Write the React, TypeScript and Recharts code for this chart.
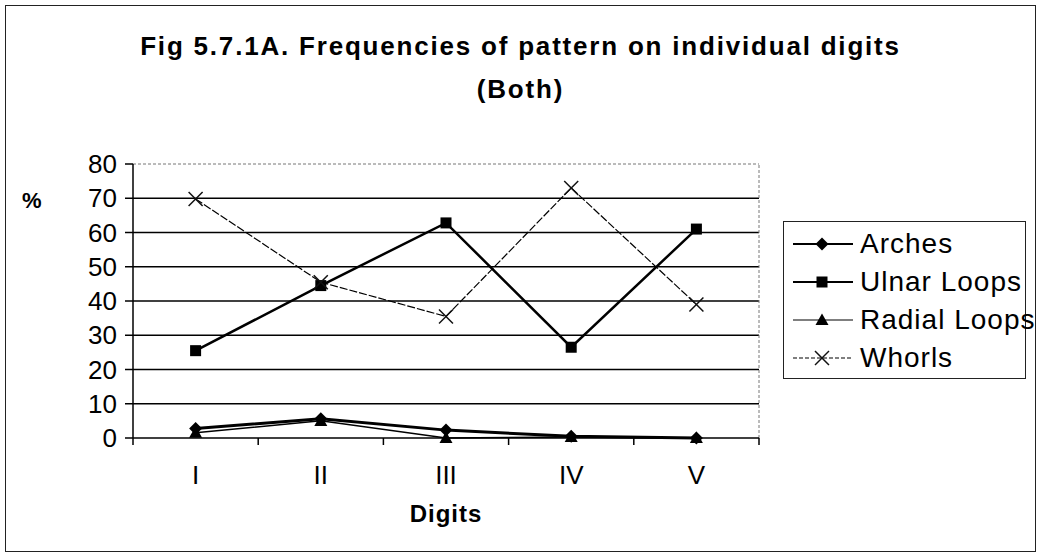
import React from "react";
import { LineChart, Line, XAxis, YAxis, ReferenceLine } from "recharts";

const digits = ["I", "II", "III", "IV", "V"];
const arches = [2.8, 5.6, 2.3, 0.5, 0];
const ulnarLoops = [25.5, 44.5, 62.8, 26.5, 61];
const radialLoops = [1.5, 5, 0, 0.3, 0];
const whorls = [69.8, 45.5, 35.5, 73, 39];
const yTicks = [0, 10, 20, 30, 40, 50, 60, 70, 80];
const gridValues = [10, 20, 30, 40, 50, 60, 70];

const FONT = "Arial, 'Liberation Sans', sans-serif";

const data = digits.map((d, i) => ({
  x: i + 1,
  arches: arches[i],
  ulnar: ulnarLoops[i],
  radial: radialLoops[i],
  whorls: whorls[i],
}));

// x ticks: integers carry the digit label, halves are the tick marks between categories
const xTicks = [0.5, 1, 1.5, 2, 2.5, 3, 3.5, 4, 4.5, 5, 5.5];

type DotProps = { cx?: number; cy?: number };

const Diamond = ({ cx = 0, cy = 0 }: DotProps) => (
  <path d={`M${cx},${cy - 6.5} L${cx + 6.5},${cy} L${cx},${cy + 6.5} L${cx - 6.5},${cy} Z`} fill="#000" />
);
const Square = ({ cx = 0, cy = 0 }: DotProps) => (
  <rect x={cx - 5.5} y={cy - 5.5} width={11} height={11} fill="#000" />
);
const Triangle = ({ cx = 0, cy = 0 }: DotProps) => (
  <path d={`M${cx},${cy - 6.5} L${cx + 6.5},${cy + 5} L${cx - 6.5},${cy + 5} Z`} fill="#000" />
);
const Cross = ({ cx = 0, cy = 0 }: DotProps) => (
  <g stroke="#111" strokeWidth={1.5}>
    <line x1={cx - 7} y1={cy - 7} x2={cx + 7} y2={cy + 7} />
    <line x1={cx - 7} y1={cy + 7} x2={cx + 7} y2={cy - 7} />
  </g>
);

const series = [
  { key: "arches", name: "Arches", width: 3, dash: undefined, Dot: Diamond },
  { key: "ulnar", name: "Ulnar Loops", width: 2.5, dash: undefined, Dot: Square },
  { key: "radial", name: "Radial Loops", width: 1.5, dash: undefined, Dot: Triangle },
  { key: "whorls", name: "Whorls", width: 1.2, dash: "8 2", Dot: Cross },
];

const XTick = (props: any) => {
  const { x, y, payload } = props;
  const v = payload.value as number;
  if (Number.isInteger(v)) {
    return (
      <text x={x} y={y + 28} dy="0.71em" textAnchor="middle" fontSize={26} fontFamily={FONT} fill="#000">
        {digits[v - 1]}
      </text>
    );
  }
  return <line x1={x} y1={y} x2={x} y2={y + 7} stroke="#000" strokeWidth={1.5} />;
};

const LegendBox = () => (
  <div
    style={{
      position: "absolute",
      left: 783,
      top: 221,
      border: "1.5px solid #222",
      width: 243,
      height: 158,
      boxSizing: "border-box",
      fontFamily: FONT,
      fontSize: 28,
      letterSpacing: 1,
      color: "#000",
      whiteSpace: "nowrap",
      paddingTop: 3,
    }}
  >
    {series.map((s) => (
      <div key={s.key} style={{ display: "flex", alignItems: "center", height: 38 }}>
        <svg width={76} height={20} style={{ flex: "none" }}>
          <line x1={9} y1={10} x2={69} y2={10} stroke="#000" strokeWidth={s.width > 2 ? 2 : 1.2} strokeDasharray={s.dash ? "4 2" : undefined} />
          <s.Dot cx={38} cy={10} />
        </svg>
        <span>{s.name}</span>
      </div>
    ))}
  </div>
);

export default function App() {
  return (
    <div style={{ position: "absolute", left: 0, top: 0, width: 1041, height: 558, background: "#fff", fontFamily: FONT }}>
      <div style={{ position: "absolute", left: 5, top: 5, width: 1031, height: 547, border: "1.5px solid #222", boxSizing: "border-box" }} />
      <div style={{ position: "absolute", left: 0, width: 1041, top: 25, textAlign: "center", fontWeight: "bold", fontSize: 26, letterSpacing: 1.8, lineHeight: "43px", color: "#000" }}>
        Fig 5.7.1A. Frequencies of pattern on individual digits
        <br />
        (Both)
      </div>
      <div style={{ position: "absolute", left: 22, top: 188, fontWeight: "bold", fontSize: 22, color: "#000" }}>%</div>
      <div style={{ position: "absolute", left: 396, width: 100, top: 500, textAlign: "center", fontWeight: "bold", fontSize: 24, letterSpacing: 1, color: "#000" }}>
        Digits
      </div>
      <div style={{ position: "absolute", left: 0, top: 0 }}>
        <LineChart width={1041} height={558} data={data} margin={{ top: 164, right: 282, bottom: 90, left: 73 }}>
          <XAxis
            dataKey="x"
            type="number"
            domain={[0.5, 5.5]}
            ticks={xTicks}
            interval={0}
            tickSize={0}
            tickMargin={0}
            tickLine={false}
            tick={<XTick />}
            axisLine={{ stroke: "#000", strokeWidth: 1.5 }}
            height={30}
          />
          <YAxis
            type="number"
            domain={[0, 80]}
            ticks={yTicks}
            interval={0}
            width={60}
            tickSize={8}
            tickMargin={8}
            tick={{ fontSize: 26, fontFamily: FONT, fill: "#000" }}
            tickLine={{ stroke: "#000", strokeWidth: 1.5 }}
            axisLine={{ stroke: "#000", strokeWidth: 1.5 }}
          />
          {gridValues.map((v) => (
            <ReferenceLine key={v} y={v} stroke="#000" strokeWidth={1.5} />
          ))}
          <ReferenceLine y={80} stroke="#777" strokeDasharray="3 2" />
          <ReferenceLine x={5.5} stroke="#777" strokeDasharray="3 2" />
          {series.map((s) => (
            <Line
              key={s.key}
              dataKey={s.key}
              name={s.name}
              stroke="#000"
              strokeWidth={s.width}
              strokeDasharray={s.dash}
              dot={<s.Dot />}
              activeDot={false}
              isAnimationActive={false}
            />
          ))}
        </LineChart>
      </div>
      <LegendBox />
    </div>
  );
}
